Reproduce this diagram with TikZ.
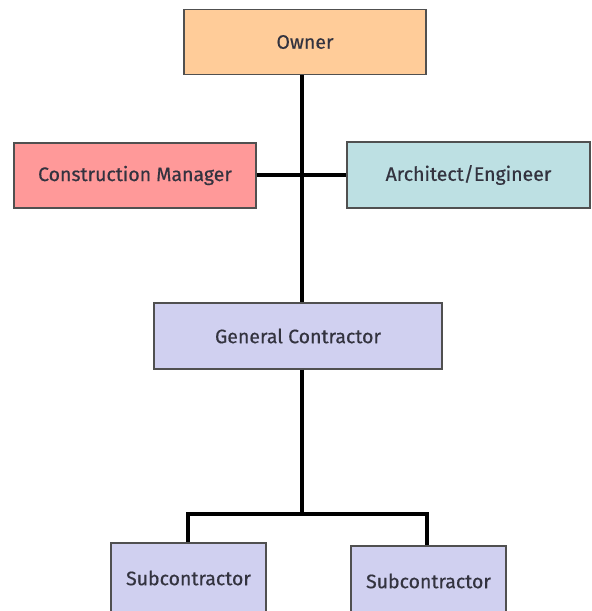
\documentclass[tikz,border=0pt]{standalone}
\usepackage{fontspec}
\setmainfont{Fira Sans}
\newfontfamily\boxfont{Fira Sans}[FakeBold=0.5]
\definecolor{ownerfill}{HTML}{FFCC99}
\definecolor{cmfill}{HTML}{FF9999}
\definecolor{aefill}{HTML}{BDE0E3}
\definecolor{gcfill}{HTML}{D0D0F0}
\definecolor{boxline}{HTML}{505050}
\definecolor{boxtext}{HTML}{33333F}
\tikzset{
  orgbox/.style={draw=boxline, line width=1.3pt, inner sep=0pt,
    font=\boxfont\fontsize{19.5}{22}\selectfont, text=boxtext},
  link/.style={draw=black, line width=3.1pt}
}
\begin{document}
\begin{tikzpicture}[x=1pt, y=-1pt]
\useasboundingbox (0,0) rectangle (592,611);
\clip (0,0) rectangle (592,611);
\node[orgbox, fill=ownerfill, minimum width=242pt, minimum height=65pt] (owner) at (305,42) {Owner};
\node[orgbox, fill=cmfill, minimum width=242pt, minimum height=65pt] (cm) at (135,175.5) {Construction Manager};
\node[orgbox, fill=aefill, minimum width=243pt, minimum height=66pt] (ae) at (468.5,175) {Architect/Engineer};
\node[orgbox, fill=gcfill, minimum width=288pt, minimum height=66pt] (gc) at (298,336) {General Contractor};
\node[orgbox, fill=gcfill, minimum width=155pt, minimum height=70pt] (s1) at (188.5,578) {Subcontractor};
\node[orgbox, fill=gcfill, minimum width=155pt, minimum height=70pt] (s2) at (428.5,581) {Subcontractor};
% vertical spine and branch points
\coordinate (spine) at (302,0);
\coordinate (tie) at (0,175);
\coordinate (fork) at (302,514);
\coordinate (forkl) at (188,514);
\coordinate (forkr) at (427,514);
\draw[link] (owner.south -| spine) -- (gc.north -| spine);
\draw[link] (cm.east |- tie) -- (ae.west |- tie);
\draw[link] (gc.south -| spine) -- (fork);
\draw[link, line join=miter] (forkl |- s1.north) -- (forkl) -- (forkr) -- (forkr |- s2.north);
\end{tikzpicture}
\end{document}
